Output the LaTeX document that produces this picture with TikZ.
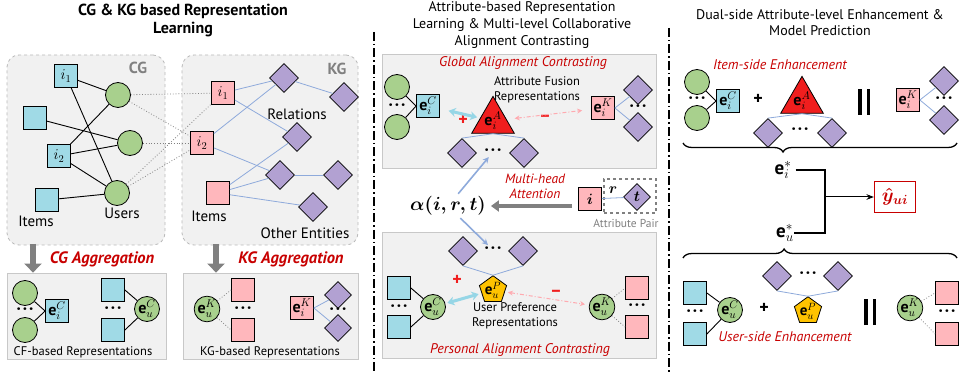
\RequirePackage{fix-cm}
\documentclass[tikz,border=0pt]{standalone}
\usepackage{fontspec}
\setmainfont{PT Sans}
\usetikzlibrary{shapes.geometric,arrows.meta,decorations.pathreplacing}

\definecolor{cgblue}{RGB}{160,218,230}
\definecolor{ugreen}{RGB}{168,208,141}
\definecolor{kgpink}{RGB}{255,183,188}
\definecolor{entpurple}{RGB}{178,161,210}
\definecolor{attred}{RGB}{240,30,30}
\definecolor{prefyellow}{RGB}{255,195,0}
\definecolor{relblue}{RGB}{142,170,219}
\definecolor{txtred}{RGB}{200,0,0}
\definecolor{panelgray}{RGB}{241,241,241}
\definecolor{panelline}{RGB}{200,200,200}
\definecolor{posblue}{RGB}{150,214,230}
\definecolor{negpink}{RGB}{255,170,176}

\newcommand{\threedots}{·\kern2pt·\kern2pt·}

\begin{document}
\begin{tikzpicture}[x=1pt,y=-1pt,>=Stealth,
  panel/.style={draw=panelline,fill=panelgray,line width=0.8pt,inner sep=0pt},
  dpanel/.style={panel,draw=gray!55,dashed,rounded corners=12pt},
  cgitem/.style={draw,line width=0.8pt,fill=cgblue,minimum size=23pt,inner sep=0pt,font=\fontsize{16}{16}\selectfont},
  kgitem/.style={cgitem,fill=kgpink},
  user/.style={draw,line width=0.8pt,circle,fill=ugreen,minimum size=25pt,inner sep=0pt,font=\fontsize{16}{16}\selectfont},
  ent/.style={draw,line width=0.8pt,diamond,fill=entpurple,minimum size=29pt,inner sep=0pt},
  attrtri/.style={draw,line width=0.8pt,regular polygon,regular polygon sides=3,fill=attred,minimum size=36pt,inner sep=0pt,font=\fontsize{16}{16}\selectfont},
  prefpent/.style={draw,line width=0.8pt,regular polygon,regular polygon sides=5,fill=prefyellow,minimum size=28pt,inner sep=0pt,font=\fontsize{15}{15}\selectfont},
  dts/.style={inner sep=0pt,font=\fontsize{17}{17}\selectfont\bfseries},
  lbl/.style={inner sep=0pt,font=\fontsize{15}{15}\selectfont},
  smalllbl/.style={inner sep=0pt,align=center,font=\fontsize{12.5}{15}\selectfont},
  redlbl/.style={inner sep=0pt,text=txtred,align=center,font=\fontsize{14}{15}\selectfont\itshape},
  agglbl/.style={inner sep=0pt,text=txtred,font=\fontsize{16.5}{17}\selectfont\bfseries\itshape},
  ttl/.style={inner sep=0pt,align=center},
  plussign/.style={inner sep=0pt,font=\fontsize{18}{18}\selectfont\bfseries},
  catbars/.style={inner sep=0pt},
  cgline/.style={line width=0.9pt},
  relline/.style={relblue,line width=0.8pt},
  crossline/.style={gray,dotted,line width=0.8pt},
  aggarr/.style={gray,line width=6pt,-{Triangle[length=9pt,width=17pt]}},
  grayarr/.style={gray,line width=3.5pt,-{Triangle[length=8pt,width=11pt]}},
  posarr/.style={posblue,line width=3pt,{Stealth[length=7pt,width=9pt]}-{Stealth[length=7pt,width=9pt]}},
  negarr/.style={negpink,line width=1pt,dash pattern=on 4pt off 2pt on 1pt off 2pt,{Stealth[length=5pt,width=5pt]}-{Stealth[length=5pt,width=5pt]}},
  attarr/.style={relblue,line width=1.6pt,-{Stealth[length=6pt,width=6pt]}},
  sepline/.style={line width=1.6pt,dash pattern=on 9pt off 3pt on 1.5pt off 3pt},
  bracedeco/.style={decorate,line width=1.3pt}]

\useasboundingbox [fill=white] (0,0) rectangle (959,374);

\node [ttl,font=\fontsize{16}{18}\selectfont\bfseries] at (183,20) (ttlcg) {CG \& KG based Representation\\Learning};
\node [ttl,font=\fontsize{14}{17}\selectfont] at (522,25) (ttlat) {Attribute-based Representation\\Learning \& Multi-level Collaborative\\Alignment Contrasting};
\node [ttl,font=\fontsize{14}{16}\selectfont] at (820,23) (ttlpr) {Dual-side Attribute-level Enhancement \&\\Model Prediction};

\draw [sepline] (374,32) -- (374,374);
\draw [sepline] (669,28) -- (669,374);

\node [dpanel,minimum width=158pt,minimum height=190pt] at (86,150) (cgbox) {};
\node [dpanel,minimum width=176pt,minimum height=190pt] at (270,150) (kgbox) {};
\node [panel,minimum width=159pt,minimum height=86pt] at (86.5,316) (cfbox) {};
\node [panel,minimum width=175pt,minimum height=86pt] at (270.5,316) (kfbox) {};
\node [panel,minimum width=274pt,minimum height=114pt] at (519,111) (glbox) {};
\node [panel,minimum width=274pt,minimum height=126pt] at (519,295) (psbox) {};

\node [inner sep=0pt,text=gray,font=\fontsize{16}{16}\selectfont\bfseries] at (138,68) (cgtag) {CG};
\node [inner sep=0pt,text=gray,font=\fontsize{16}{16}\selectfont\bfseries] at (337,69) (kgtag) {KG};

\node [cgitem,font=\fontsize{15}{15}\selectfont] at (66,76) (ci1) {$i_1$};
\node [cgitem] at (35,118) (ci3) {};
\node [cgitem,font=\fontsize{15}{15}\selectfont] at (59,156) (ci2) {$i_2$};
\node [cgitem] at (47,200) (ci4) {};
\node [user] at (118,95) (cu1) {};
\node [user] at (130,143) (cu2) {};
\node [user] at (117,193) (cu3) {};
\node [lbl] at (36,221) (citems) {Items};
\node [lbl] at (122,213) (cusers) {Users};

\draw [cgline] (ci1) -- (cu1);
\draw [cgline] (ci1) -- (cu3);
\draw [cgline] (ci3) -- (cu2);
\draw [cgline] (ci2) -- (cu1);
\draw [cgline] (ci2) -- (cu2);
\draw [cgline] (ci2) -- (cu3);
\draw [cgline] (ci4) -- (cu3);

\node [kgitem,font=\fontsize{15}{15}\selectfont] at (223,93) (ki1) {$i_1$};
\node [kgitem,font=\fontsize{15}{15}\selectfont] at (202,143) (ki2) {$i_2$};
\node [kgitem] at (218,193) (ki3) {};
\node [ent] at (284,78) (ke1) {};
\node [ent] at (344,97) (ke2) {};
\node [ent] at (297,137) (ke3) {};
\node [ent] at (280,175) (ke4) {};
\node [ent] at (338,175) (ke5) {};
\node [ent] at (313,207) (ke6) {};
\node [lbl] at (209,216) (kitems) {Items};
\node [lbl] at (297,114) (krel) {Relations};
\node [lbl] at (305,233) (kent) {Other Entities};

\draw [crossline] (cu1) -- (ki1);
\draw [crossline] (cu1) -- (ki2);
\draw [crossline] (cu2) -- (ki2);
\draw [crossline] (cu3) -- (ki1);
\draw [crossline] (cu3) -- (ki2);

\draw [relline] (ki1) -- (ke1);
\draw [relline] (ki1) -- (ke3);
\draw [relline] (ki2) -- (ke1);
\draw [relline] (ki2) -- (ke4);
\draw [relline] (ki3) -- (ke3);
\draw [relline] (ki3) -- (ke4);
\draw [relline] (ki3) -- (ke6);
\draw [relline] (ke1) -- (ke2);
\draw [relline] (ke4) -- (ke5);

\coordinate (cga) at (33,244);
\coordinate (kga) at (216,244);
\draw [aggarr] (cga) -- (cga |- cfbox.north);
\draw [aggarr] (kga) -- (kga |- kfbox.north);
\node [agglbl] at (102,259) (cgagg) {CG Aggregation};
\node [agglbl] at (291,259) (kgagg) {KG Aggregation};

\node [user] at (25,293) (fu1) {};
\node [user] at (25,330) (fu2) {};
\node [dts] at (25,311) (fd1) {\threedots};
\node [cgitem] at (57,311) (feic) {$\mathbf{e}_i^C$};
\node [cgitem] at (113,290) (fb1) {};
\node [cgitem] at (113,330) (fb2) {};
\node [dts] at (113,310) (fd2) {\threedots};
\node [user] at (147,309) (feuc) {$\mathbf{e}_u^C$};
\node [smalllbl] at (83,352) (cflbl) {CF-based Representations};

\draw [cgline] (fu1) -- (feic.west);
\draw [cgline] (fu2) -- (feic.west);
\draw [cgline] (fb1.east) -- (feuc);
\draw [cgline] (fb2.east) -- (feuc);

\node [user] at (207,309) (feuk) {$\mathbf{e}_u^K$};
\node [kgitem] at (243,290) (fk1) {};
\node [kgitem] at (243,330) (fk2) {};
\node [dts] at (243,310) (fd3) {\threedots};
\node [kgitem] at (302,308) (feik) {$\mathbf{e}_i^K$};
\node [ent,minimum size=27pt] at (338,295) (fe1) {};
\node [ent,minimum size=27pt] at (338,328) (fe2) {};
\node [dts] at (338,311) (fd4) {\threedots};
\node [smalllbl] at (270,352) (kflbl) {KG-based Representations};

\draw [crossline] (feuk) -- (fk1.west);
\draw [crossline] (feuk) -- (fk2.west);
\draw [relline] (feik.east) -- (fe1);
\draw [relline] (feik.east) -- (fe2);

\node [redlbl] at (523,63) (gltxt) {Global Alignment Contrasting};
\node [user] at (397,87) (gu1) {};
\node [user] at (397,127) (gu2) {};
\node [dts] at (397,107) (gd1) {\threedots};
\node [cgitem] at (428,106) (geic) {$\mathbf{e}_i^C$};
\node [attrtri] at (493,121) (gea) {$\mathbf{e}_i^A$};
\node [ent] at (462,153) (gl1) {};
\node [ent] at (524,153) (gl2) {};
\node [dts] at (493,152) (gd2) {\threedots};
\node [kgitem] at (603,108) (geik) {$\mathbf{e}_i^K$};
\node [ent] at (638,90) (gk1) {};
\node [ent] at (638,127) (gk2) {};
\node [dts] at (638,108) (gd3) {\threedots};
\node [smalllbl] at (537,90) (glfus) {Attribute Fusion\\Representations};
\node [plussign,text=attred] at (463,120) (gplus) {+};
\node [plussign,text=attred] at (545,118) (gminus) {–};

\draw [cgline] (gu1) -- (geic.west);
\draw [cgline] (gu2) -- (geic.west);
\draw [relline] (gea.south) -- (gl1.north);
\draw [relline] (gea.south) -- (gl2.north);
\draw [relline] (geik.east) -- (gk1);
\draw [relline] (geik.east) -- (gk2);
\draw [posarr,shorten <=9pt,shorten >=3pt] (geic) -- (gea);
\draw [negarr,shorten <=8pt,shorten >=9pt] (gea) -- (geik);

\node [inner sep=1pt,font=\fontsize{19}{19}\selectfont\boldmath] at (448,206) (alpha) {$\alpha(i,r,t)$};
\node [redlbl,font=\fontsize{13.5}{15}\selectfont\itshape] at (535,186) (mhatt) {Multi-head\\Attention};
\node [kgitem,font=\fontsize{15}{15}\selectfont\boldmath] at (590,199) (pi) {$i$};
\node [draw=gray,dashed,line width=1.2pt,minimum width=52pt,minimum height=34pt,inner sep=0pt] at (630,196) (pbox) {};
\node [ent,minimum size=27pt,font=\fontsize{15}{15}\selectfont\boldmath] at (637,197) (pt) {$t$};
\node [inner sep=0pt,font=\fontsize{15}{15}\selectfont\boldmath] at (613,190) (pr) {$r$};
\node [inner sep=0pt,text=gray,font=\fontsize{11.5}{12}\selectfont] at (626,223) (plbl) {Attribute Pair};

\draw [relline] (pi) -- (pt);
\draw [grayarr,shorten <=6pt,shorten >=4pt] (pi.west |- alpha.east) -- (alpha.east);
\draw [attarr,shorten <=2pt,shorten >=2pt] (alpha) -- (gd2);

\node [ent] at (463,251) (pe1) {};
\node [ent] at (523,251) (pe2) {};
\node [dts] at (493,250) (pd1) {\threedots};
\node [prefpent] at (493,290) (pp) {$\mathbf{e}_u^P$};
\node [cgitem] at (399,288) (pb1) {};
\node [cgitem] at (399,327) (pb2) {};
\node [dts] at (399,308) (pd2) {\threedots};
\node [user] at (433,307) (pu) {$\mathbf{e}_u^C$};
\node [user] at (602,307) (pk) {$\mathbf{e}_u^K$};
\node [kgitem] at (637,288) (pk1) {};
\node [kgitem] at (637,327) (pk2) {};
\node [dts] at (637,307) (pd3) {\threedots};
\node [smalllbl] at (515,316) (pslbl) {User Preference\\Representations};
\node [plussign,text=attred] at (457,280) (pplus) {+};
\node [plussign,text=attred] at (556,293) (pminus) {–};
\node [redlbl] at (520,350) (pstxt) {Personal Alignment Contrasting};

\draw [attarr,shorten <=2pt,shorten >=2pt] (alpha) -- (pd1);
\draw [relline] (pe1.south) -- (pp.corner 1);
\draw [relline] (pe2.south) -- (pp.corner 1);
\draw [cgline] (pb1.east) -- (pu);
\draw [cgline] (pb2.east) -- (pu);
\draw [crossline] (pk) -- (pk1.west);
\draw [crossline] (pk) -- (pk2.west);
\draw [posarr,shorten <=2pt,shorten >=3pt] (pu) -- (pp);
\draw [negarr,shorten <=3pt,shorten >=4pt] (pp) -- (pk);

\node [redlbl] at (780,65) (ittxt) {Item-side Enhancement};
\node [user] at (697,82) (ru1) {};
\node [user] at (697,118) (ru2) {};
\node [dts] at (697,100) (rd1) {\threedots};
\node [cgitem] at (728,101) (reic) {$\mathbf{e}_i^C$};
\node [plussign] at (758,99) (rplus1) {+};
\node [attrtri] at (802,101) (rea) {$\mathbf{e}_i^A$};
\node [ent] at (768,133) (ra1) {};
\node [ent] at (832,133) (ra2) {};
\node [dts] at (800,131) (rd2) {\threedots};
\node [catbars] at (864,102) (rcat1) {\rule{3.5pt}{26pt}\hspace{5pt}\rule{3.5pt}{26pt}};
\node [kgitem] at (908,100) (reik) {$\mathbf{e}_i^K$};
\node [ent] at (944,81) (rk1) {};
\node [ent] at (944,120) (rk2) {};
\node [dts] at (944,100) (rd3) {\threedots};

\draw [cgline] (ru1) -- (reic.west);
\draw [cgline] (ru2) -- (reic.west);
\draw [relline] (rea.south) -- (ra1.north);
\draw [relline] (rea.south) -- (ra2.north);
\draw [relline] (reik.east) -- (rk1);
\draw [relline] (reik.east) -- (rk2);

\draw [bracedeco,decoration={brace,amplitude=9pt,aspect=0.635}] (957,143) -- (683,143);
\node [inner sep=0pt,font=\fontsize{19}{19}\selectfont] at (783,170) (eis) {$\mathbf{e}_i^*$};
\node [inner sep=0pt,font=\fontsize{19}{19}\selectfont] at (785,233) (eus) {$\mathbf{e}_u^*$};
\coordinate (jn) at (825,197);
\node [draw=txtred,line width=1.2pt,text=txtred,minimum width=41pt,minimum height=31pt,inner sep=0pt,font=\fontsize{19}{19}\selectfont\boldmath] at (895,197) (yhat) {$\hat{y}_{ui}$};
\draw [line width=1.2pt,shorten <=4pt] (eis.east) -| (jn) |- (eus.east);
\draw [line width=1pt,->] (jn) -- (yhat);
\draw [bracedeco,decoration={brace,amplitude=9pt,aspect=0.369}] (683,258) -- (957,258);

\node [ent] at (777,276) (ru3) {};
\node [ent] at (838,276) (ru4) {};
\node [dts] at (808,275) (rd4) {\threedots};
\node [prefpent] at (808,311) (rep) {$\mathbf{e}_u^P$};
\node [plussign] at (764,308) (rplus2) {+};
\node [cgitem] at (695,293) (rb1) {};
\node [cgitem] at (695,334) (rb2) {};
\node [dts] at (695,313) (rd5) {\threedots};
\node [user] at (730,310) (reuc) {$\mathbf{e}_u^C$};
\node [catbars] at (870,312) (rcat2) {\rule{3.5pt}{26pt}\hspace{5pt}\rule{3.5pt}{26pt}};
\node [user] at (910,308) (reuk) {$\mathbf{e}_u^K$};
\node [kgitem] at (947,293) (rk3) {};
\node [kgitem] at (947,334) (rk4) {};
\node [dts] at (947,313) (rd6) {\threedots};
\node [redlbl] at (785,337) (ustxt) {User-side Enhancement};

\draw [relline] (ru3.south) -- (rep.corner 1);
\draw [relline] (ru4.south) -- (rep.corner 1);
\draw [cgline] (rb1.east) -- (reuc);
\draw [cgline] (rb2.east) -- (reuc);
\draw [crossline] (reuk) -- (rk3.west);
\draw [crossline] (reuk) -- (rk4.west);

\end{tikzpicture}
\end{document}
